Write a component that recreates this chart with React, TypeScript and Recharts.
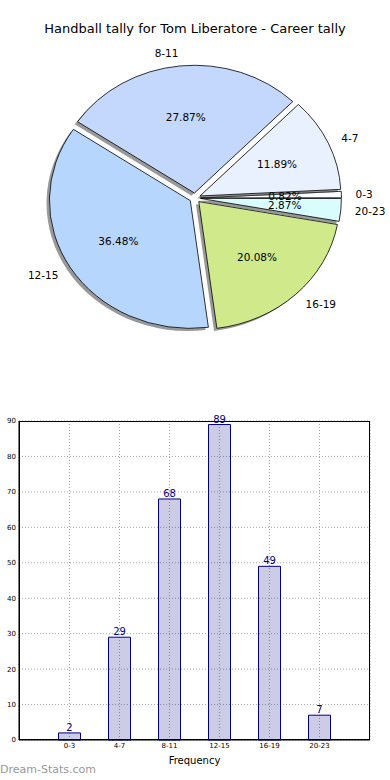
import React from "react";
import {
  Bar,
  BarChart,
  CartesianGrid,
  LabelList,
  Pie,
  PieChart,
  Sector,
  XAxis,
  YAxis,
} from "recharts";

const bins = ["0-3", "4-7", "8-11", "12-15", "16-19", "20-23"];
const counts = [2, 29, 68, 89, 49, 7];
const sliceColors = ["#fbfcff", "#eaf1fe", "#c4d8fe", "#b7d6fe", "#d0ea8b", "#d9fdfd"];
const yTicks = [0, 10, 20, 30, 40, 50, 60, 70, 80, 90];

const title = "Handball tally for Tom Liberatore - Career tally";

const pieData = bins.map((bin, i) => ({ name: bin, value: counts[i], fill: sliceColors[i] }));
const barData = bins.map((bin, i) => ({ bin, count: counts[i] }));

const FONT = "'DejaVu Sans', sans-serif";
const RAD = Math.PI / 180;
const PIE_R = 127.75;
const SX = 1.103; // matplotlib pie without equal aspect -> stretched horizontally
const EXPLODE = 5;
const SHADOW = 2.6;

function stretch(cx: number, cy: number) {
  return `translate(${cx} ${cy}) scale(${SX} 1) translate(${-cx} ${-cy})`;
}

function ExplodedSlice(props: any) {
  const { cx, cy, outerRadius, startAngle, endAngle, midAngle, fill } = props;
  const ox = cx + EXPLODE * Math.cos(midAngle * RAD);
  const oy = cy - EXPLODE * Math.sin(midAngle * RAD);
  return (
    <g transform={stretch(cx, cy)}>
      <Sector
        cx={ox - SHADOW}
        cy={oy + SHADOW}
        innerRadius={0}
        outerRadius={outerRadius}
        startAngle={startAngle}
        endAngle={endAngle}
        fill="#333"
        fillOpacity={0.5}
        stroke="none"
      />
      <Sector
        cx={ox}
        cy={oy}
        innerRadius={0}
        outerRadius={outerRadius}
        startAngle={startAngle}
        endAngle={endAngle}
        fill={fill}
        stroke="#000"
        strokeWidth={0.8}
        vectorEffect="non-scaling-stroke"
      />
    </g>
  );
}

function SliceLabels(props: any) {
  const { cx, cy, outerRadius, midAngle, percent, name } = props;
  const cos = Math.cos(midAngle * RAD);
  const sin = Math.sin(midAngle * RAD);
  const outX = cx + SX * (EXPLODE + 1.1 * outerRadius) * cos;
  const outY = cy - (EXPLODE + 1.1 * outerRadius) * sin;
  const inX = cx + SX * (EXPLODE + 0.6 * outerRadius) * cos;
  const inY = cy - (EXPLODE + 0.6 * outerRadius) * sin;
  return (
    <g fontFamily={FONT} fontSize={10.5} fill="#000">
      <text x={outX} y={outY} textAnchor={cos >= 0 ? "start" : "end"} dominantBaseline="central">
        {name}
      </text>
      <text x={inX} y={inY} textAnchor="middle" dominantBaseline="central">
        {(percent * 100).toFixed(2)}%
      </text>
    </g>
  );
}

export default function App() {
  return (
    <div
      style={{
        position: "fixed",
        left: 0,
        top: 0,
        width: 390,
        height: 780,
        background: "#fff",
        fontFamily: FONT,
        overflow: "hidden",
      }}
    >
      <div
        style={{
          position: "absolute",
          top: 21,
          left: 0,
          width: 390,
          textAlign: "center",
          fontSize: 13,
          color: "#000",
        }}
      >
        {title}
      </div>

      <div style={{ position: "absolute", left: 0, top: 0 }}>
        <PieChart width={390} height={400} margin={{ top: 0, right: 0, bottom: 0, left: 0 }}>
          <Pie
            data={pieData}
            dataKey="value"
            nameKey="name"
            cx={195}
            cy={198}
            outerRadius={PIE_R}
            startAngle={0}
            endAngle={360}
            shape={ExplodedSlice}
            activeShape={ExplodedSlice}
            inactiveShape={ExplodedSlice}
            label={SliceLabels}
            labelLine={false}
            isAnimationActive={false}
          />
        </PieChart>
      </div>

      <div style={{ position: "absolute", left: 0, top: 400 }}>
        <BarChart
          width={390}
          height={380}
          data={barData}
          margin={{ top: 21, right: 20, bottom: 10, left: 0 }}
        >
          <CartesianGrid stroke="#a8a8a8" strokeDasharray="1 2" />
          <XAxis
            dataKey="bin"
            padding={{ left: 25.5, right: 25.5 }}
            axisLine={{ stroke: "#000" }}
            tickLine={false}
            tickSize={2}
            tickMargin={1}
            height={30}
            tick={{ fontSize: 7, fill: "#000" }}
            label={{ value: "Frequency", position: "insideBottom", offset: 6, fontSize: 10, fill: "#000" }}
          />
          <YAxis
            domain={[0, 90]}
            ticks={yTicks}
            interval={0}
            width={19}
            axisLine={{ stroke: "#000" }}
            tickLine={false}
            tickSize={0}
            tickMargin={3}
            tick={{ fontSize: 7, fill: "#000" }}
          />
          <Bar
            dataKey="count"
            barSize={22}
            fill="#000080"
            fillOpacity={0.2}
            stroke="#000080"
            strokeWidth={1}
            isAnimationActive={false}
          >
            <LabelList dataKey="count" position="top" offset={2} fill="#000080" fontSize={10} />
          </Bar>
        </BarChart>
      </div>

      <div
        style={{
          position: "absolute",
          left: 19,
          top: 421,
          width: 351,
          height: 319,
          border: "1px solid #000",
          boxSizing: "border-box",
          pointerEvents: "none",
        }}
      />

      <div
        style={{
          position: "absolute",
          left: 0,
          top: 763,
          fontSize: 11,
          color: "#999",
          lineHeight: "14px",
        }}
      >
        Dream-Stats.com
      </div>
    </div>
  );
}
